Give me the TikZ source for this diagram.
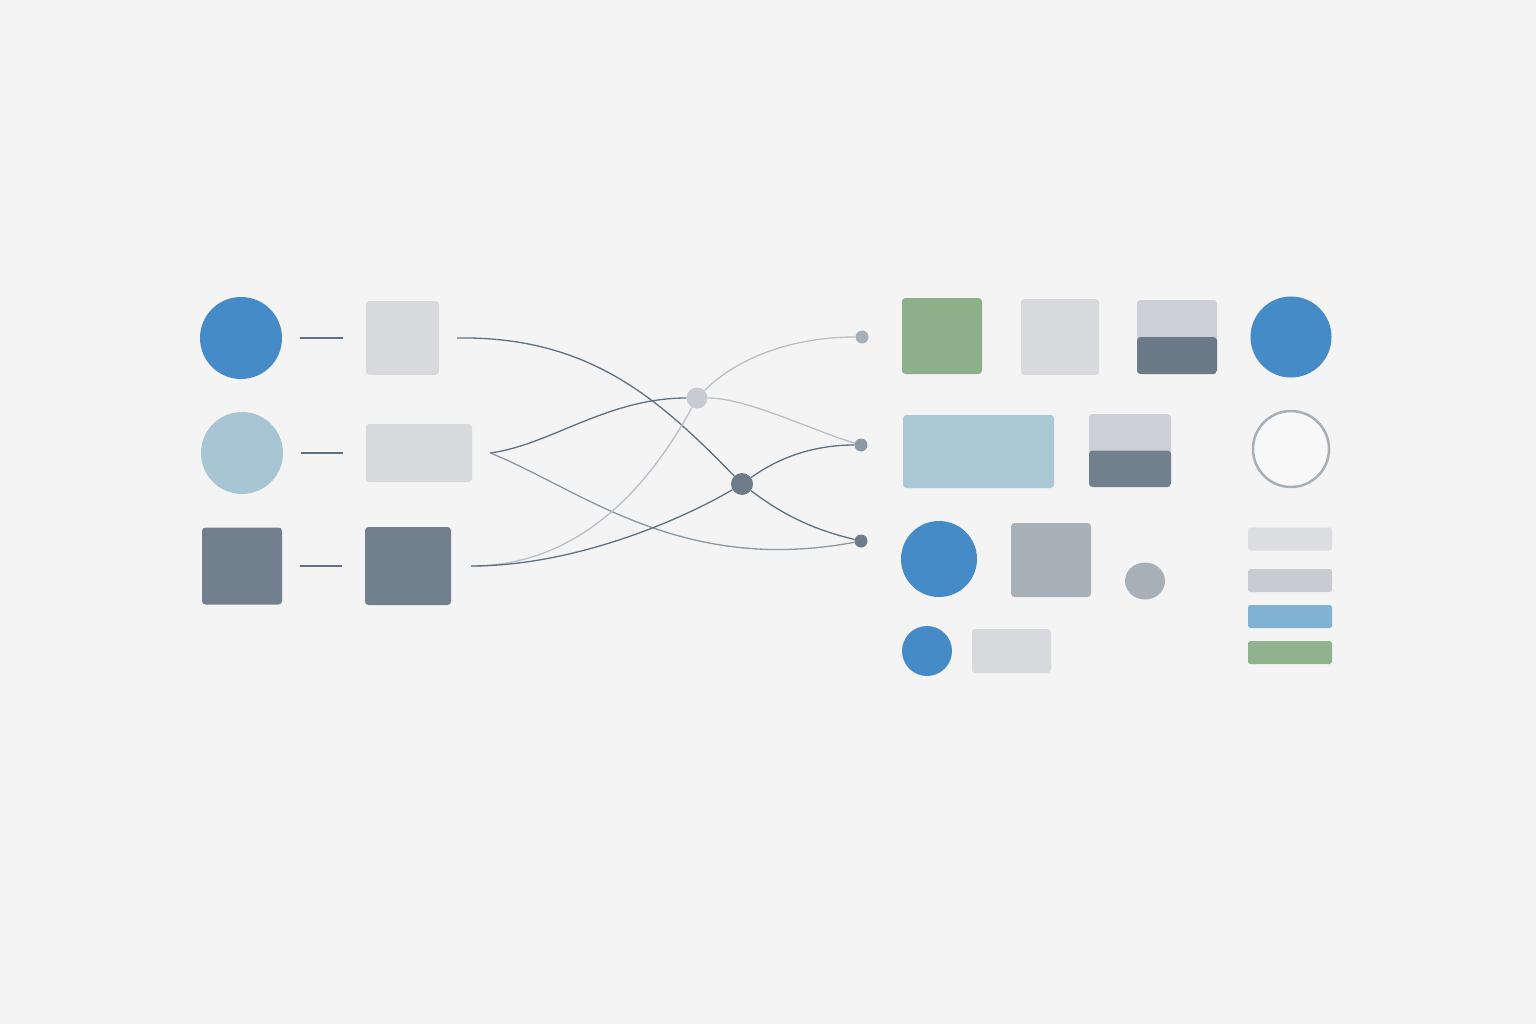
\documentclass[tikz,border=0pt]{standalone}
\usepackage{xcolor}
\usepackage{tikz}
\usetikzlibrary{positioning,shapes.geometric}

\definecolor{bgcol}{HTML}{F4F4F4}
\definecolor{blu}{HTML}{448BC8}
\definecolor{paleblu}{HTML}{A7C5D3}
\definecolor{paleblub}{HTML}{ABC8D5}
\definecolor{slate}{HTML}{72808D}
\definecolor{slatedk}{HTML}{6C7A88}
\definecolor{lgray}{HTML}{D7D9DC}
\definecolor{sgray}{HTML}{CDD0D4}
\definecolor{mgray}{HTML}{A7AFB7}
\definecolor{sage}{HTML}{8DAF8A}
\definecolor{wiredk}{HTML}{5F7080}
\definecolor{wirelt}{HTML}{B9BFC6}
\definecolor{wiremd}{HTML}{8C97A2}
\definecolor{hublt}{HTML}{C8CBD0}
\definecolor{hubdk}{HTML}{6E7C89}
\definecolor{tipmd}{HTML}{8E98A2}
\definecolor{barA}{HTML}{DCDDE0}
\definecolor{barB}{HTML}{C8CBCF}
\definecolor{barC}{HTML}{82B2D3}
\definecolor{barD}{HTML}{90B28E}

\begin{document}
\begin{tikzpicture}[x=1pt,y=-1pt,
	box/.style={rectangle,rounded corners=3.5pt,inner sep=0pt},
	dot/.style={circle,inner sep=0pt},
	stub/.style={draw=wiredk,line width=1.2pt,shorten <=18pt,shorten >=23pt},
	wire/.style={draw=#1,line width=1.3pt},
	halves/.style={box,fill=sgray,path picture={\fill[#1] (path picture bounding box.west) rectangle (path picture bounding box.south east);}}]
	\fill[bgcol] (0,0) rectangle (1536,1024);

	\node[dot,fill=blu,minimum size=82pt] (src1) at (241,338) {};
	\node[dot,fill=paleblu,minimum size=82pt] (src2) at (242,453) {};
	\node[box,fill=slate,minimum width=80pt,minimum height=77pt] (src3) at (242,566) {};
	\node[box,fill=lgray,minimum width=73pt,minimum height=74pt] (blk1) at (402.5,338) {};
	\node[box,fill=lgray,minimum width=106pt,minimum height=58pt] (blk2) at (419,453) {};
	\node[box,fill=slate,minimum width=86pt,minimum height=78pt] (blk3) at (408,566) {};
	\foreach \i in {1,2,3}
		\draw[stub] (src\i) -- (blk\i);

	\coordinate (out1) at ([xshift=18pt]blk1.east);
	\coordinate (out2) at ([xshift=18pt]blk2.east);
	\coordinate (out3) at ([xshift=20pt]blk3.east);

	\node[dot,fill=hublt,minimum size=21pt] (hubA) at (697,398) {};
	\node[dot,fill=hubdk,minimum size=22pt] (hubB) at (742,484) {};
	\node[dot,fill=mgray,minimum size=13pt] (tip1) at (862,337) {};
	\node[dot,fill=tipmd,minimum size=13pt] (tip2) at (861,445) {};
	\node[dot,fill=hubdk,minimum size=13pt] (tip3) at (861,541) {};

	\draw[wire=wiredk] (out1) .. controls +(133,-2) and +(-82,-84) .. (hubB);
	\draw[wire=wiredk] (out2) .. controls +(60,-8) and +(-90,0) .. (hubA);
	\draw[wire=wiremd] (out2) .. controls +(90,36) and +(-181,34) .. (tip3);
	\draw[wire=wirelt] (out3) .. controls +(109,0) and +(-47,87) .. (hubA);
	\draw[wire=wiredk] (out3) .. controls +(109,0) and +(-52,31) .. (hubB);
	\draw[wire=wirelt] (hubA) .. controls +(40,-40) and +(-70,0) .. (tip1);
	\draw[wire=wirelt] (hubA) .. controls +(50,0) and +(-50,-15) .. (tip2);
	\draw[wire=wiredk] (hubB) .. controls +(35,-25) and +(-50,0) .. (tip2);
	\draw[wire=wiredk] (hubB) .. controls +(40,30) and +(-50,-12) .. (tip3);

	\node[box,fill=sage,minimum width=80pt,minimum height=76pt] (sq1) at (942,336) {};
	\node[box,fill=lgray,minimum width=78pt,minimum height=76pt] (sq2) at (1060,337) {};
	\node[halves=slatedk,minimum width=80pt,minimum height=74pt] (pair1) at (1177,337) {};
	\node[dot,fill=blu,minimum size=81pt] (disc1) at (1291,337) {};
	\node[box,fill=paleblub,minimum width=151pt,minimum height=73pt] (wide1) at (978.5,451.5) {};
	\node[halves=slate,minimum width=82pt,minimum height=73pt] (pair2) at (1130,450.5) {};
	\node[dot,draw=mgray,line width=2.5pt,fill=white!35!bgcol,minimum size=76pt] (ring1) at (1291,449) {};
	\node[dot,fill=blu,minimum size=76pt] (disc2) at (939,559) {};
	\node[box,fill=mgray,minimum width=80pt,minimum height=74pt] (sq3) at (1051,560) {};
	\node[ellipse,inner sep=0pt,fill=mgray,minimum width=40pt,minimum height=37pt] (peb1) at (1145,581) {};
	\node[dot,fill=blu,minimum size=50pt] (disc3) at (927,651) {};
	\node[box,fill=lgray,minimum width=79pt,minimum height=44pt] (slab1) at (1011.5,651) {};
	\foreach \n/\y/\col in {1/539/barA,2/580.5/barB,3/616.5/barC,4/652.5/barD}
		\node[box,rounded corners=2.5pt,fill=\col,minimum width=84pt,minimum height=23pt] (bar\n) at (1290,\y) {};
\end{tikzpicture}
\end{document}
